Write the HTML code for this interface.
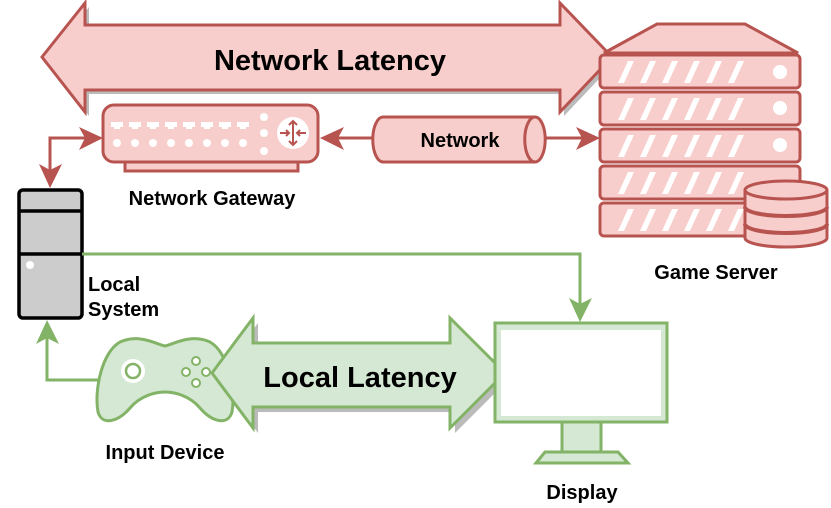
<!DOCTYPE html>
<html><head><style>body{margin:0;background:#fff}svg{display:block}text{font-family:"Liberation Sans",Arial,sans-serif;font-weight:bold}</style></head>
<body>
<svg width="831" height="508" viewBox="0 0 831 508" xmlns="http://www.w3.org/2000/svg">
<!-- Network latency arrow shadow -->
<polygon points="46,61 89,7 89,29 564,29 564,7 616,61 564,116 564,94 89,94 89,116" fill="#bbb"/>
<polygon points="42,57 85,3 85,25 560,25 560,3 612,57 560,112 560,90 85,90 85,112" fill="#f8cecc" stroke="#b85450" stroke-width="3"/>
<text x="330" y="70" font-size="29" text-anchor="middle">Network Latency</text>

<!-- Game server -->
<g stroke="#b85450" stroke-width="3" fill="#f8cecc">
<polygon points="657,24 745,24 798,53 604,53"/>
<rect x="600" y="55" width="200" height="33" rx="4"/>
<rect x="600" y="92" width="200" height="33" rx="4"/>
<rect x="600" y="129" width="200" height="33" rx="4"/>
<rect x="600" y="166" width="200" height="33" rx="4"/>
<rect x="600" y="203" width="200" height="33" rx="4"/>
</g>
<g fill="#fff">
<g id="st">
<polygon points="618,83 624,83 634,61 628,61"/><polygon points="640,83 646,83 656,61 650,61"/><polygon points="662,83 668,83 678,61 672,61"/><polygon points="684,83 690,83 700,61 694,61"/><polygon points="706,83 712,83 722,61 716,61"/><polygon points="728,83 734,83 744,61 738,61"/>
</g>
<use href="#st" y="37"/><use href="#st" y="74"/><use href="#st" y="111"/><use href="#st" y="148"/>
<circle cx="780" cy="72" r="7"/><circle cx="780" cy="108" r="7"/><circle cx="780" cy="145" r="7"/>
</g>
<!-- database -->
<g stroke="#b85450" stroke-width="3" fill="#f8cecc">
<path d="M745,190 v48 a41,9 0 0 0 82,0 v-48"/>
<ellipse cx="786" cy="190" rx="41" ry="9"/>
<path d="M745,207 a41,9 0 0 0 82,0" fill="none" stroke-width="4"/>
<path d="M745,224 a41,9 0 0 0 82,0" fill="none" stroke-width="4"/>
</g>
<text x="716" y="279" font-size="20" text-anchor="middle">Game Server</text>

<!-- Gateway -->
<rect x="125" y="158" width="173" height="13" fill="#f8cecc" stroke="#b85450" stroke-width="3"/>
<rect x="103" y="105" width="215" height="57" rx="11" fill="#f8cecc" stroke="#b85450" stroke-width="3"/>
<g fill="#fff">
<g id="pt"><rect x="111" y="122" width="12" height="5"/><rect x="114" y="126" width="6" height="3"/><circle cx="117" cy="143" r="4"/></g>
<use href="#pt" x="18"/><use href="#pt" x="36"/><use href="#pt" x="54"/><use href="#pt" x="72"/><use href="#pt" x="90"/><use href="#pt" x="108"/><use href="#pt" x="126"/>
<circle cx="264" cy="117" r="4"/><circle cx="264" cy="133" r="4"/><circle cx="264" cy="151" r="4"/>
<circle cx="293" cy="133" r="16"/>
</g>
<g stroke="#b85450" stroke-width="2" fill="none"><path d="M293,122 v22 M289,125 l4,-4 4,4 M289,141 l4,4 4,-4 M280,133 h9 M286,130 l3,3 -3,3 M306,133 h-9 M300,130 l-3,3 3,3"/></g>
<text x="212" y="205" font-size="20" text-anchor="middle">Network Gateway</text>

<!-- Network cylinder -->
<path d="M383,117 h152 a10,22 0 0 1 0,45 h-152 a10,22 0 0 1 0,-45z" fill="#f8cecc" stroke="#b85450" stroke-width="3"/>
<path d="M535,117 a10,22 0 0 0 0,45" fill="none" stroke="#b85450" stroke-width="3"/>
<text x="460" y="147" font-size="20" text-anchor="middle">Network</text>
<!-- red connectors -->
<g stroke="#b85450" stroke-width="3" fill="none">
<path d="M372,138 h-40"/><path d="M545,138 h40"/><path d="M90,138 h-40 v40"/>
</g>
<g fill="#b85450">
<polygon points="320,138 344,127 338,138 344,150"/>
<polygon points="600,138 576,127 582,138 576,150"/>
<polygon points="103,138 79,127 85,138 79,150"/>
<polygon points="50,188 39,164 50,170 62,164"/>
</g>

<!-- Local system -->
<rect x="19" y="190" width="63" height="128" rx="4" fill="#ccc" stroke="#000" stroke-width="3.5"/>
<path d="M19,211 h63 M19,254 h63" stroke="#000" stroke-width="3.5"/>
<circle cx="30" cy="265" r="4" fill="#fff"/>
<text x="88" y="291" font-size="20">Local</text>
<text x="88" y="316" font-size="20">System</text>

<!-- green connectors -->
<g stroke="#82b366" stroke-width="3" fill="none">
<path d="M82,254 H580 V305"/><path d="M100,380 H47 V332"/>
</g>
<g fill="#82b366">
<polygon points="580,322 569,298 580,304 592,298"/>
<polygon points="47,320 36,344 47,338 59,344"/>
</g>

<!-- controller -->
<path d="M120,342 C140,333 158,345 165,346 C172,345 190,333 210,342 C228,352 236,390 232,412 C228,426 212,422 200,408 C190,396 175,392 165,392 C155,392 140,396 130,408 C118,422 102,426 98,412 C94,390 102,352 120,342z" fill="#d5e8d4" stroke="#82b366" stroke-width="3"/>
<circle cx="133" cy="371" r="12" fill="#fff"/><circle cx="133" cy="371" r="7" fill="none" stroke="#82b366" stroke-width="2.5"/>
<g fill="#fff" stroke="#82b366" stroke-width="2"><circle cx="196" cy="361" r="4"/><circle cx="186" cy="372" r="4"/><circle cx="206" cy="372" r="4"/><circle cx="196" cy="383" r="4"/></g>
<text x="165" y="459" font-size="20" text-anchor="middle">Input Device</text>

<!-- local latency arrow -->
<polygon points="217,378 258,323 258,348 455,348 455,323 510,378 455,433 455,412 258,412 258,433" fill="#bbb"/>
<polygon points="212,373 253,318 253,343 450,343 450,318 505,373 450,428 450,407 253,407 253,428" fill="#d5e8d4" stroke="#82b366" stroke-width="3"/>
<text x="360" y="387" font-size="29" text-anchor="middle">Local Latency</text>

<!-- display -->
<rect x="495" y="323" width="172" height="99" fill="#d5e8d4" stroke="#82b366" stroke-width="3"/>
<rect x="501" y="330" width="160" height="86" fill="#fff"/>
<rect x="562" y="422" width="39" height="30" fill="#d5e8d4" stroke="#82b366" stroke-width="3"/>
<polygon points="545,452 618,452 628,463 536,463" fill="#d5e8d4" stroke="#82b366" stroke-width="3"/>
<text x="582" y="499" font-size="20" text-anchor="middle">Display</text>
</svg>
</body></html>
